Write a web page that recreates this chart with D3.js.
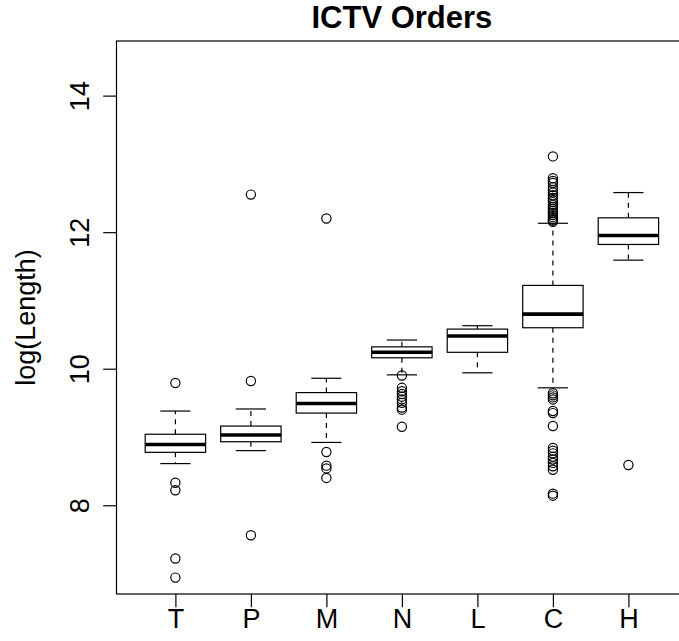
<!DOCTYPE html>
<html>
<head>
<meta charset="utf-8">
<script src="https://cdn.jsdelivr.net/npm/d3@7"></script>
<style>
  html, body { margin: 0; padding: 0; background: #fff; }
  svg { display: block; }
  text { font-family: "Liberation Sans", Arial, Helvetica, sans-serif; fill: #000; }
</style>
</head>
<body>
<script>
// ---- data ----
const categories = ["T", "P", "M", "N", "L", "C", "H"];
const lowerWhisker = [8.61, 8.80, 8.92, 9.91, 9.94, 9.72, 11.59];
const q1 = [8.775, 8.93, 9.35, 10.16, 10.24, 10.60, 11.82];
const medians = [8.89, 9.03, 9.49, 10.24, 10.48, 10.80, 11.95];
const q3 = [9.04, 9.16, 9.65, 10.32, 10.58, 11.22, 12.21];
const upperWhisker = [9.38, 9.41, 9.86, 10.42, 10.63, 12.13, 12.58];
const outliersT = [9.79, 8.33, 8.22, 7.22, 6.94];
const outliersP = [12.55, 9.82, 7.56];
const outliersM = [12.20, 8.78, 8.58, 8.54, 8.40];
const outliersN = [9.90, 9.72, 9.67, 9.63, 9.59, 9.55, 9.50, 9.43, 9.40, 9.15];
const outliersL = [];
const outliersC = [13.11, 12.79, 12.75, 12.72, 12.66, 12.62, 12.58, 12.54, 12.50, 12.47,
                   12.44, 12.40, 12.37, 12.34, 12.31, 12.28, 12.25, 12.22, 12.19, 12.17, 12.15,
                   9.64, 9.61, 9.58, 9.55, 9.38, 9.35, 9.16, 8.84, 8.80, 8.76, 8.71, 8.67,
                   8.62, 8.57, 8.52, 8.17, 8.14];
const outliersH = [8.59];
const outliers = [outliersT, outliersP, outliersM, outliersN, outliersL, outliersC, outliersH];
const yTicks = [8, 10, 12, 14];
const title = "ICTV Orders";
const yLabel = "log(Length)";

// ---- layout ----
const W = 679, H = 641;
const plotL = 116.5, plotR = 687.3, plotT = 41, plotB = 594;

const svg = d3.select("body").append("svg")
  .attr("width", W).attr("height", H)
  .attr("viewBox", `0 0 ${W} ${H}`);

const x = d3.scaleLinear().domain([0.22, 7.78]).range([plotL, plotR]);
const y = d3.scaleLinear().domain([6.7, 14.8]).range([plotB, plotT]);

const boxHalf = 0.4, stapleHalf = 0.2;

const data = categories.map((c, i) => ({
  cat: c, pos: i + 1,
  lw: lowerWhisker[i], q1: q1[i], med: medians[i], q3: q3[i], uw: upperWhisker[i],
  out: outliers[i]
}));

const g = svg.append("g");

const groups = g.selectAll("g.box").data(data).enter().append("g").attr("class", "box");

// whiskers (dashed)
groups.append("line")
  .attr("x1", d => x(d.pos)).attr("x2", d => x(d.pos))
  .attr("y1", d => y(d.q3)).attr("y2", d => y(d.uw))
  .attr("stroke", "#000").attr("stroke-width", 1.2).attr("stroke-dasharray", "5,5");
groups.append("line")
  .attr("x1", d => x(d.pos)).attr("x2", d => x(d.pos))
  .attr("y1", d => y(d.q1)).attr("y2", d => y(d.lw))
  .attr("stroke", "#000").attr("stroke-width", 1.2).attr("stroke-dasharray", "5,5");
// staples
groups.append("line")
  .attr("x1", d => x(d.pos - stapleHalf)).attr("x2", d => x(d.pos + stapleHalf))
  .attr("y1", d => y(d.uw)).attr("y2", d => y(d.uw))
  .attr("stroke", "#000").attr("stroke-width", 1.2);
groups.append("line")
  .attr("x1", d => x(d.pos - stapleHalf)).attr("x2", d => x(d.pos + stapleHalf))
  .attr("y1", d => y(d.lw)).attr("y2", d => y(d.lw))
  .attr("stroke", "#000").attr("stroke-width", 1.2);
// box
groups.append("rect")
  .attr("x", d => x(d.pos - boxHalf))
  .attr("width", d => x(d.pos + boxHalf) - x(d.pos - boxHalf))
  .attr("y", d => y(d.q3))
  .attr("height", d => y(d.q1) - y(d.q3))
  .attr("fill", "#fff").attr("stroke", "#000").attr("stroke-width", 1.2);
// median
groups.append("line")
  .attr("x1", d => x(d.pos - boxHalf)).attr("x2", d => x(d.pos + boxHalf))
  .attr("y1", d => y(d.med)).attr("y2", d => y(d.med))
  .attr("stroke", "#000").attr("stroke-width", 3.6);
// outliers
groups.each(function(d) {
  d3.select(this).selectAll("circle").data(d.out).enter().append("circle")
    .attr("cx", x(d.pos)).attr("cy", v => y(v)).attr("r", 4.6)
    .attr("fill", "none").attr("stroke", "#000").attr("stroke-width", 1.2);
});

// frame
svg.append("rect")
  .attr("x", plotL).attr("y", plotT)
  .attr("width", plotR - plotL).attr("height", plotB - plotT)
  .attr("fill", "none").attr("stroke", "#000").attr("stroke-width", 1.2);

// y axis
const yAxis = d3.axisLeft(y).tickValues(yTicks).tickSize(13.3).tickPadding(0).tickFormat(d3.format("d"));
const yA = svg.append("g").attr("transform", `translate(${plotL},0)`).call(yAxis);
yA.select(".domain").remove();
yA.selectAll(".tick line").attr("stroke", "#000").attr("stroke-width", 1.2);
yA.selectAll(".tick text")
  .attr("x", null).attr("dy", null)
  .attr("transform", "translate(-27.5,0) rotate(-90)")
  .attr("text-anchor", "middle")
  .style("font-size", "27px")
  .style("font-family", "'Liberation Sans', Arial, sans-serif")
  .attr("fill", "#000");

// x axis
const xAxis = d3.axisBottom(x).tickValues(d3.range(1, categories.length + 1))
  .tickSize(13.3).tickPadding(0).tickFormat(d => categories[d - 1]);
const xA = svg.append("g").attr("transform", `translate(0,${plotB})`).call(xAxis);
xA.select(".domain").remove();
xA.selectAll(".tick line").attr("stroke", "#000").attr("stroke-width", 1.2);
xA.selectAll(".tick text")
  .attr("y", 34).attr("dy", null)
  .style("font-size", "27px")
  .style("font-family", "'Liberation Sans', Arial, sans-serif")
  .attr("fill", "#000");

// title
svg.append("text")
  .attr("x", (plotL + plotR) / 2).attr("y", 28)
  .attr("text-anchor", "middle")
  .style("font-size", "31px").style("font-weight", "bold")
  .text(title);

// y label
svg.append("text")
  .attr("transform", `translate(35,${(plotT + plotB) / 2}) rotate(-90)`)
  .attr("text-anchor", "middle")
  .style("font-size", "27px")
  .text(yLabel);
</script>
</body>
</html>
